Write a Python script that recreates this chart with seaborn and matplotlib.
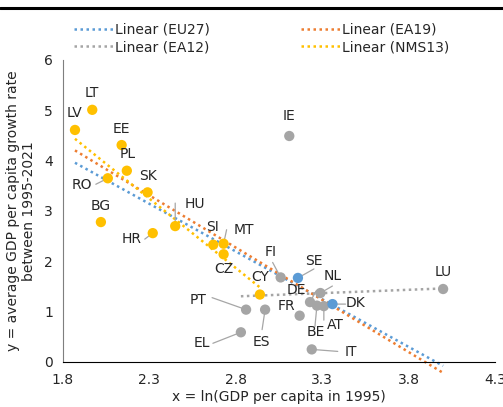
import matplotlib
matplotlib.use("Agg")
import matplotlib.pyplot as plt
from matplotlib.lines import Line2D
import numpy as np
import pandas as pd
import seaborn as sns

# ── Data ─────────────────────────────────────────────────────────────────────
countries = ["LT", "LV", "EE", "PL", "RO", "SK", "BG", "HU", "HR", "SI", "MT",
             "CZ", "CY", "FI", "SE", "NL", "DE", "BE", "AT", "DK", "FR", "PT",
             "ES", "EL", "IT", "LU", "IE"]
ln_gdp_1995 = [1.97, 1.87, 2.14, 2.17, 2.06, 2.29, 2.02, 2.45, 2.32, 2.67, 2.73,
               2.73, 2.94, 3.06, 3.16, 3.29, 3.23, 3.27, 3.31, 3.36, 3.17, 2.86,
               2.97, 2.83, 3.24, 4.00, 3.11]
growth = [5.01, 4.61, 4.31, 3.80, 3.65, 3.37, 2.78, 2.70, 2.56, 2.33, 2.35,
          2.14, 1.34, 1.68, 1.67, 1.37, 1.19, 1.12, 1.11, 1.15, 0.92, 1.04,
          1.04, 0.59, 0.25, 1.45, 4.49]
group = ["NMS13"] * 13 + ["EA12", "Other", "EA12", "EA12", "EA12", "EA12",
                          "Other", "EA12", "EA12", "EA12", "EA12", "EA12",
                          "EA12", "EA12"]
nms_in_euro = ["LT", "LV", "EE", "SK", "SI", "MT", "CY"]

df = pd.DataFrame({"country": countries, "x": ln_gdp_1995, "y": growth, "group": group})

# label offsets in pixels from the marker (dx, dy)
label_pos = {
    "LT": (0, 17), "LV": (0, 17), "EE": (0, 16), "PL": (1, 17), "RO": (-26, -7),
    "SK": (0, 16), "BG": (0, 16), "HU": (20, 22), "HR": (-21, -6), "SI": (-1, 18),
    "MT": (20, 14), "CZ": (0, -15), "CY": (0, 18), "FI": (-10, 25), "SE": (16, 17),
    "NL": (12, 17), "DE": (-14, 12), "BE": (-1, -26), "AT": (11, -19), "DK": (23, 1),
    "FR": (-13, 10), "PT": (-48, 10), "ES": (-4, -32), "EL": (-39, -11),
    "IT": (39, -3), "LU": (0, 17), "IE": (0, 20),
}
# where the leader line starts (pixel offset from the marker)
leader_start = {
    "RO": (-12, -6), "HU": (0, 23), "HR": (-8, -6), "MT": (3, 14), "FI": (-8, 15),
    "SE": (16, 9), "NL": (12, 7), "DE": (6, 11), "BE": (-2, -21), "AT": (0, -14),
    "DK": (13, 0), "PT": (-34, 12), "ES": (-3, -20), "EL": (-28, -11), "IT": (26, -2),
}

POINT_COLORS = {"EA12": "#A5A5A5", "NMS13": "#FFC000", "Other": "#5B9BD5"}
TREND_COLORS = {"EU27": "#5B9BD5", "EA19": "#ED7D31", "EA12": "#A5A5A5", "NMS13": "#FFC000"}

# ── Plot ─────────────────────────────────────────────────────────────────────
sns.set_style("white")
plt.rcParams["font.family"] = ["DejaVu Sans"]

fig = plt.figure(figsize=(5.03, 4.07), dpi=100)
ax = fig.add_axes([0.125, 0.1106, 0.859, 0.742])

subsets = {
    "EU27": df,
    "EA19": df[(df.group == "EA12") | df.country.isin(nms_in_euro)],
    "EA12": df[df.group == "EA12"],
    "NMS13": df[df.group == "NMS13"],
}
dots = (0, (1, 1.4))
for name, sub in subsets.items():
    sns.regplot(data=sub, x="x", y="y", ax=ax, scatter=False, ci=None, truncate=True,
                line_kws=dict(color=TREND_COLORS[name], lw=1.8, ls=dots, clip_on=False,
                              zorder=2))

sns.scatterplot(data=df, x="x", y="y", hue="group", palette=POINT_COLORS,
                hue_order=["EA12", "NMS13", "Other"], s=55, edgecolor="none",
                legend=False, ax=ax, zorder=3)

for _, r in df.iterrows():
    dx, dy = label_pos[r.country]
    ax.annotate(r.country, (r.x, r.y), xytext=(dx, dy), textcoords="offset pixels",
                ha="center", va="center", fontsize=10, color="#262626", zorder=4)
    if r.country in leader_start:
        ax.annotate("", (r.x, r.y), xytext=leader_start[r.country],
                    textcoords="offset pixels", zorder=2.5,
                    arrowprops=dict(arrowstyle="-", color="#A6A6A6", lw=0.9,
                                    shrinkA=0, shrinkB=0))

ax.set_xlim(1.8, 4.3)
ax.set_ylim(0, 6)
ax.set_xticks([1.8, 2.3, 2.8, 3.3, 3.8, 4.3])
ax.set_xticklabels(["1.8", "2.3", "2.8", "3.3", "3.8", "4.3"])
ax.set_yticks(range(7))
ax.tick_params(labelsize=10, colors="#262626", length=0, pad=8)
ax.tick_params(axis="y", length=3, color="#7F7F7F", pad=4)
for side in ["top", "right"]:
    ax.spines[side].set_visible(False)
ax.spines["left"].set_color("#7F7F7F")
ax.spines["bottom"].set_color("black")
ax.set_xlabel("x = ln(GDP per capita in 1995)", fontsize=10, color="#262626", labelpad=2)
ax.set_ylabel("y = average GDP per capita growth rate\nbetween 1995-2021", fontsize=10,
              color="#262626", labelpad=6)

handles = [Line2D([], [], color=TREND_COLORS[n], lw=1.8, ls=dots) for n in
           ["EU27", "EA12", "EA19", "NMS13"]]
labels = ["Linear (EU27)", "Linear (EA12)", "Linear (EA19)", "Linear (NMS13)"]
fig.legend(handles, labels, ncol=2, loc="upper center", bbox_to_anchor=(0.52, 0.975),
           frameon=False, fontsize=10, columnspacing=6.6, handlelength=2.8,
           handletextpad=0.15, labelspacing=0.25)

# cropped header rule at the top of the picture
fig.add_artist(Line2D([0, 1], [0.981, 0.981], color="black", lw=2.2,
                      transform=fig.transFigure))

fig.savefig("out.png", dpi=100)
